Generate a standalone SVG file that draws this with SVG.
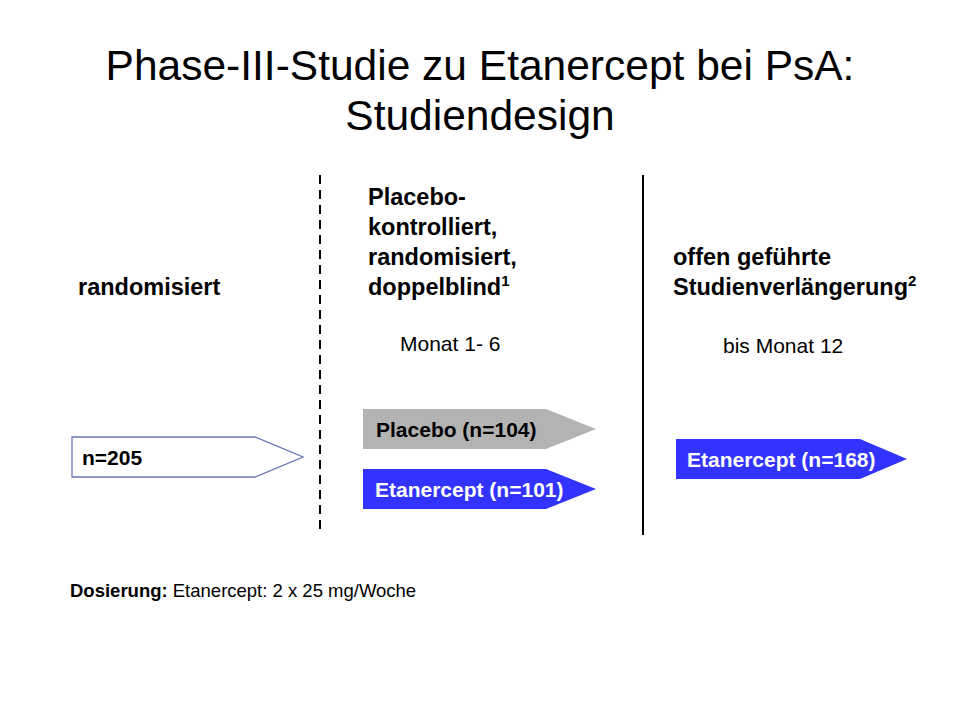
<svg xmlns="http://www.w3.org/2000/svg" width="960" height="720" viewBox="0 0 960 720">
<style>
text{font-family:"Liberation Sans",Arial,sans-serif;fill:#000}
.t{font-size:42.5px}
.h{font-size:23.5px;font-weight:bold}
.m{font-size:21px}
.b{font-size:21px;font-weight:bold}
.w{fill:#fff}
.sup{font-size:15px}
</style>
<rect width="960" height="720" fill="#fff"/>
<g id="title">
<text class="t" x="480" y="80" text-anchor="middle">Phase-III-Studie zu Etanercept bei PsA:</text>
<text class="t" x="480" y="130" text-anchor="middle">Studiendesign</text>
</g>
<g id="connectors">
<line x1="320" y1="175" x2="320" y2="535" stroke="#000" stroke-width="2" stroke-dasharray="9,6"/>
<line x1="643" y1="175" x2="643" y2="535" stroke="#000" stroke-width="2"/>
</g>
<g id="col1">
<text class="h" x="78" y="295">randomisiert</text>
</g>
<g id="col2">
<text class="h" x="368" y="205">Placebo-</text>
<text class="h" x="368" y="235">kontrolliert,</text>
<text class="h" x="368" y="265">randomisiert,</text>
<text class="h" x="368" y="295">doppelblind<tspan class="sup" dy="-9">1</tspan></text>
<text class="m" x="400" y="351">Monat 1- 6</text>
</g>
<g id="col3">
<text class="h" x="673" y="265">offen geführte</text>
<text class="h" x="673" y="295">Studienverlängerung<tspan class="sup" dy="-9">2</tspan></text>
<text class="m" x="723" y="353">bis Monat 12</text>
</g>
<g id="n205">
<polygon points="72,437 255,437 303,457 255,477 72,477" fill="#fff" stroke="#6b76b8" stroke-width="1.3"/>
<text class="b" x="82" y="465">n=205</text>
</g>
<g id="placebo">
<polygon points="363,409 546,409 596,429 546,449 363,449" fill="#b3b3b3"/>
<text class="b" x="376" y="437">Placebo (n=104)</text>
</g>
<g id="etan101">
<polygon points="363,469 546,469 596,489 546,509 363,509" fill="#3333ff"/>
<text class="b w" x="375" y="497">Etanercept (n=101)</text>
</g>
<g id="etan168">
<polygon points="676,439 860,439 907,459 860,479 676,479" fill="#3333ff"/>
<text class="b w" x="687" y="467">Etanercept (n=168)</text>
</g>
<g id="dose">
<text x="70" y="597" font-size="18.5"><tspan font-weight="bold">Dosierung:</tspan> Etanercept: 2 x 25 mg/Woche</text>
</g>
</svg>
